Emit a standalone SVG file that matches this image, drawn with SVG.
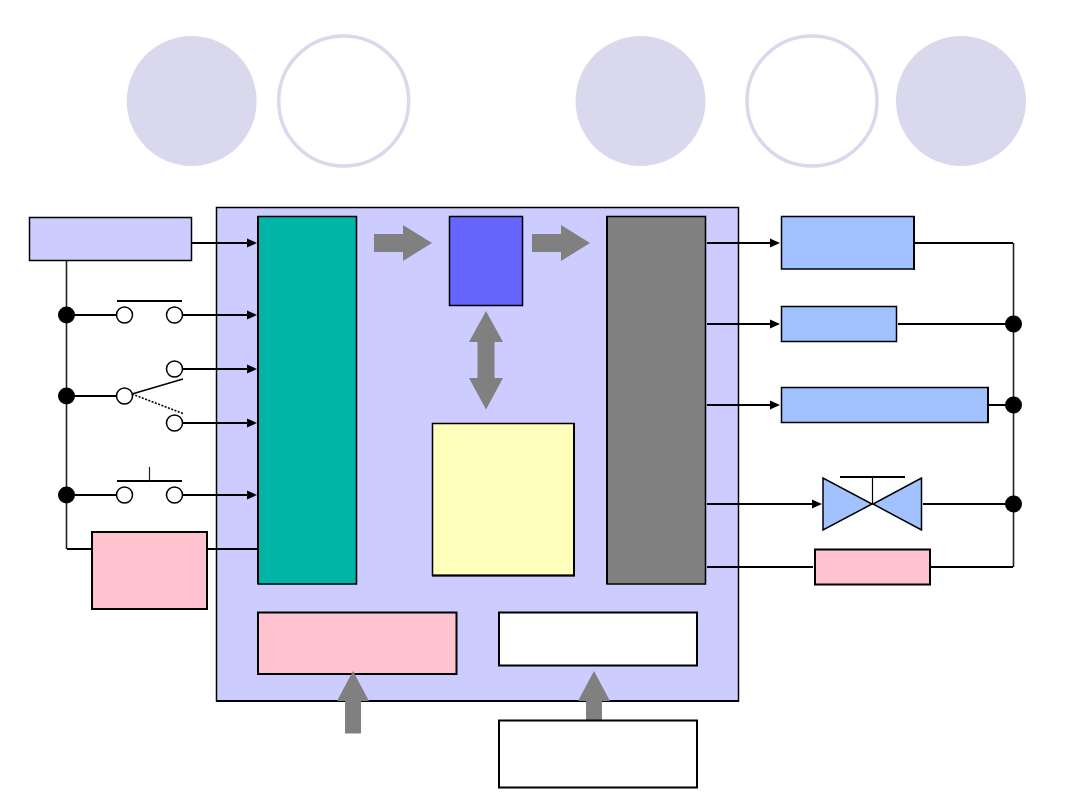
<svg xmlns="http://www.w3.org/2000/svg" width="1080" height="810" viewBox="0 0 1080 810">
<style>
.w{fill:none;stroke:#000;stroke-width:2}
.a{marker-end:url(#ah)}
.v{fill:none;stroke:#222;stroke-width:1.6}
.b{stroke:#000;stroke-width:1.5}
.b2{stroke:#000;stroke-width:2}
.e{stroke:#000;stroke-width:2;fill:none}
.g{fill:#808080}
.dot{fill:#000}
.sw{fill:#fff;stroke:#000;stroke-width:1.5}
.cf{fill:#dad8ec}
.cr{fill:#fff;stroke:#dad8ec;stroke-width:3.5}
.lb{fill:#a2c1ff}
.pk{fill:#ffc2cf}
</style>
<defs>
<marker id="ah" markerUnits="userSpaceOnUse" markerWidth="10" markerHeight="10" viewBox="0 0 10 10" refX="7" refY="5" orient="auto"><polygon points="0,0.500 10,5 0,9.500" fill="#000"/></marker>
</defs>
<g id="deco">
<circle class="cf" cx="191.700" cy="101" r="65"/>
<circle class="cr" cx="343.700" cy="101" r="65"/>
<circle class="cf" cx="640.500" cy="101" r="65"/>
<circle class="cr" cx="812" cy="101" r="65"/>
<circle class="cf" cx="961" cy="101" r="65"/>
</g>
<g id="panel"><rect x="216.500" y="207.500" width="522" height="493.500" fill="#ccccff" class="b"/><path class="e" d="M216 701H739"/></g>
<g id="connectors">
<path class="v" d="M66.500 260V549"/>
<path class="v" d="M1013.500 243V567"/>
<path class="w a" d="M192 243H254"/>
<path class="w" d="M66 315H117"/>
<path class="w a" d="M182 315H254"/>
<path class="w a" d="M182 369H254"/>
<path class="w" d="M66 396H117"/>
<path class="w a" d="M182 423H254"/>
<path class="w" d="M66 495H117"/>
<path class="w a" d="M182 495H254"/>
<path class="w" d="M67 549H92M207 549H258"/>
<path class="w a" d="M707 243H777"/>
<path class="w" d="M914 243H1013"/>
<path class="w a" d="M707 324H777"/>
<path class="w" d="M898 324H1013"/>
<path class="w a" d="M707 405H777"/>
<path class="w" d="M988 405H1013"/>
<path class="w a" d="M707 504H819"/>
<path class="w" d="M923 504H1013"/>
<path class="w" d="M707 567H813M931 567H1013"/>
</g>
<g id="source"><rect x="29.500" y="217.500" width="162" height="43" fill="#ccccff" class="b"/></g>
<g id="switch-1">
<circle class="dot" cx="66.500" cy="315" r="8.500"/>
<path d="M117 301H182" stroke="#000" stroke-width="2"/>
<circle class="sw" cx="124.500" cy="315" r="8"/>
<circle class="sw" cx="174.500" cy="315" r="8"/>
</g>
<g id="switch-2">
<circle class="dot" cx="66.500" cy="396" r="8.500"/>
<path d="M132 394L183 379" stroke="#000" stroke-width="1.500"/>
<path d="M132 394L183 413.500" stroke="#000" stroke-width="1.500" stroke-dasharray="2 1.500"/>
<circle class="sw" cx="174.500" cy="369" r="8"/>
<circle class="sw" cx="124.500" cy="396" r="8"/>
<circle class="sw" cx="174.500" cy="423" r="8"/>
</g>
<g id="switch-3">
<circle class="dot" cx="66.500" cy="495" r="8.500"/>
<path d="M117 481H182" stroke="#000" stroke-width="2"/>
<path d="M149.500 467V481" stroke="#222" stroke-width="1.200"/>
<circle class="sw" cx="124.500" cy="495" r="8"/>
<circle class="sw" cx="174.500" cy="495" r="8"/>
</g>
<g id="pink-left"><rect x="92" y="532" width="115" height="77" class="pk b2"/></g>
<g id="input-block"><rect x="258" y="216.500" width="98.500" height="367.500" fill="#00b5a5" class="b"/><path class="e" d="M258 216V584"/></g>
<g id="cpu"><rect x="449.500" y="216.500" width="73" height="89" fill="#6666ff" class="b"/></g>
<g id="memory"><rect x="432.500" y="423.500" width="141.500" height="152" fill="#ffffbb" class="b"/><path class="e" d="M574 423V576M432 575.500H575"/></g>
<g id="output-block"><rect x="607" y="216.500" width="98.500" height="367.500" class="g b"/><path class="e" d="M607 216V584"/></g>
<g id="power"><rect x="258" y="612.500" width="198.500" height="61.500" class="pk b2"/></g>
<g id="comm"><rect x="499" y="612.500" width="198" height="53" fill="#fff" class="b2"/></g>
<g id="arrows">
<polygon class="g" points="374,234 403,234 403,225 432,243 403,261 403,252 374,252"/>
<polygon class="g" points="532,234 561,234 561,225 590,243 561,261 561,252 532,252"/>
<polygon class="g" points="486,311 503,342 494.500,342 494.500,378 503,378 486,409.500 469,378 477.500,378 477.500,342 469,342"/>
<polygon class="g" points="353,671 369,701 361,701 361,733.500 345,733.500 345,701 337,701"/>
<polygon class="g" points="594,671 610,701 602,701 602,721 586,721 586,701 578,701"/>
</g>
<g id="lower-box"><rect x="499" y="720.500" width="198" height="67" fill="#fff" class="b2"/></g>
<g id="output-1"><rect x="781.500" y="216.500" width="132.500" height="52.500" class="lb b"/><path class="e" d="M914 216V270"/></g>
<g id="output-2"><rect x="781.500" y="306.500" width="115" height="35" class="lb b"/></g>
<g id="output-3"><rect x="781.500" y="387.500" width="206.500" height="35" class="lb b"/><path class="e" d="M988 387V423"/></g>
<g id="valve">
<path d="M840 477H905" stroke="#000" stroke-width="2"/>
<path d="M872.500 477V504" stroke="#000" stroke-width="1.200"/>
<polygon class="lb b" points="823,478 823,530 872,504"/>
<polygon class="lb b" points="921.500,478 921.500,530 873,504"/>
</g>
<g id="pink-right"><rect x="815" y="549.500" width="115" height="35" class="pk b2"/></g>
<g id="junctions">
<circle class="dot" cx="1013.500" cy="324" r="8.500"/>
<circle class="dot" cx="1013.500" cy="405" r="8.500"/>
<circle class="dot" cx="1013.500" cy="504" r="8.500"/>
</g>
</svg>
